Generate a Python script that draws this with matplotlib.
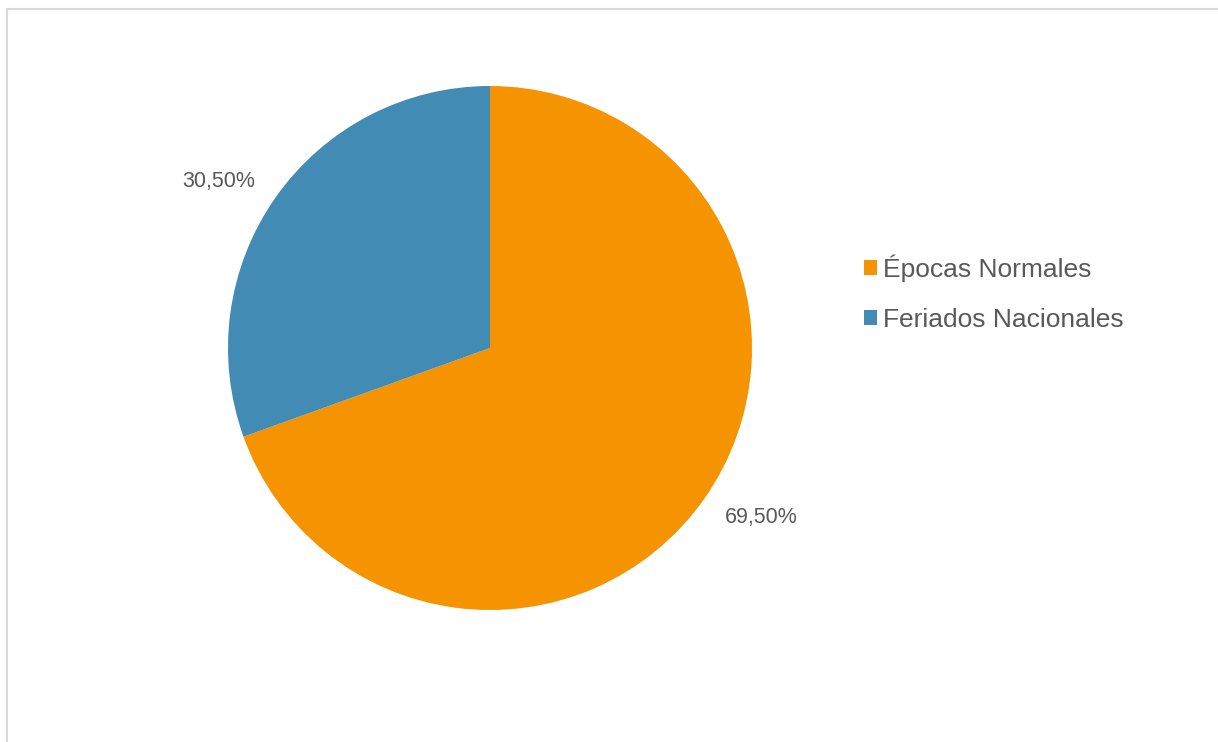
#!/usr/bin/env python3
import numpy as np
import matplotlib
matplotlib.use('Agg')
import matplotlib.pyplot as plt
from matplotlib.patches import Rectangle

labels = ['Épocas Normales', 'Feriados Nacionales']
values = [69.50, 30.50]
colors = ['#F59300', '#428BB5']

plt.rcParams['font.family'] = ['Liberation Sans', 'DejaVu Sans']
txt = '#595959'

W, H = 1218, 742
fig = plt.figure(figsize=(W / 100, H / 100), dpi=100)

# light frame round the chart area (runs off right/bottom edge)
fig.patches.append(Rectangle((6.5 / W, -0.05), 1.2, (H - 8.5) / H + 0.05,
                             transform=fig.transFigure, fill=False,
                             edgecolor='#d9d9d9', linewidth=1.5))

ax = fig.add_axes([228 / W, 132 / H, 524 / W, 524 / H])
wedges, _ = ax.pie(values, colors=colors, startangle=90, counterclock=False,
                   radius=1, wedgeprops=dict(linewidth=0))
ax.set_xlim(-1, 1)
ax.set_ylim(-1, 1)

# data labels, placed just outside each slice
start = 90.0
for v in values:
    mid = np.deg2rad(start - v / 100 * 180 + 3.3)
    ax.text(1.217 * np.cos(mid), 1.217 * np.sin(mid) - 0.005,
            ('%.2f%%' % v).replace('.', ','), ha='center', va='center',
            fontsize=15.5, color=txt, clip_on=False)
    start -= v / 100 * 360

fig.legend(wedges, labels, loc='center left', bbox_to_anchor=(851 / W, 1 - 293 / H),
           frameon=False, fontsize=19, labelcolor=txt, handlelength=0.5,
           handleheight=0.5, handletextpad=0.2, labelspacing=1.0, borderpad=0)

fig.savefig('out.png', dpi=100)
